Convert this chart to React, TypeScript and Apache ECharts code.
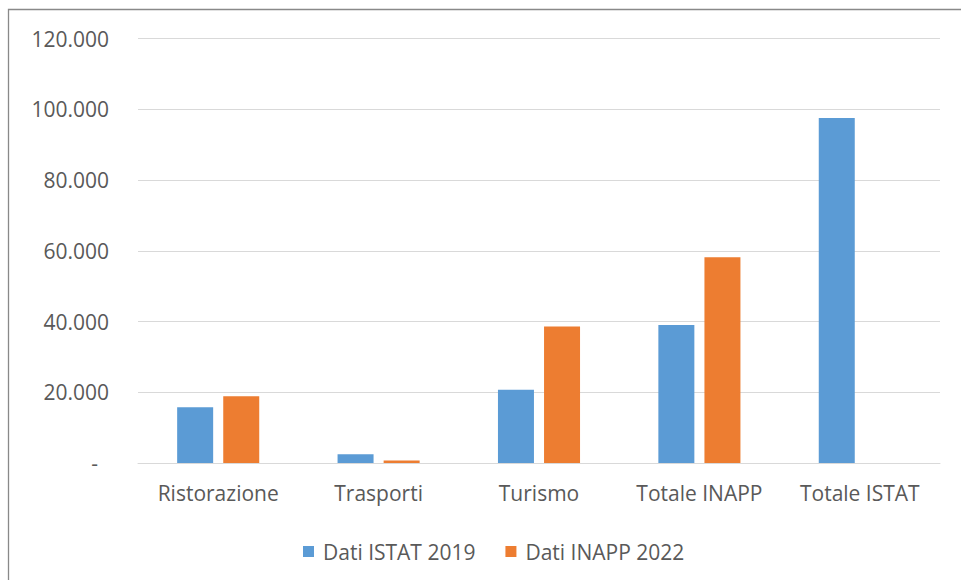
import React, { useEffect, useRef } from "react";
import * as echarts from "echarts";

const categories = ["Ristorazione", "Trasporti", "Turismo", "Totale INAPP", "Totale ISTAT"];
const istat2019 = [15800, 2500, 20700, 39000, 97600];
const inapp2022 = [18900, 700, 38600, 58200, null];
const seriesNames = ["Dati ISTAT 2019", "Dati INAPP 2022"];

const FONT = "'Open Sans', 'Noto Sans', sans-serif";
const TEXT = "#595959";
const FS = 21;

function fmt(v: number): string {
  if (v === 0) return "{z|-}";
  const s = String(Math.round(v));
  return s.replace(/\B(?=(\d{3})+(?!\d))/g, ".");
}

export default function App() {
  const ref = useRef<HTMLDivElement>(null);
  useEffect(() => {
    if (!ref.current) return;
    const chart = echarts.init(ref.current, undefined, { renderer: "svg" });
    chart.setOption({
      animation: false,
      backgroundColor: "#ffffff",
      graphic: [
        {
          type: "rect",
          shape: { x: 8.5, y: 9.5, width: 1200, height: 1000 },
          style: { fill: "none", stroke: "#898989", lineWidth: 1.3 },
          silent: true,
          z: 100,
        },
      ],
      grid: { left: 138, right: 21, top: 38.7, bottom: 117, containLabel: false },
      legend: {
        left: 298,
        top: 536,
        itemWidth: 11,
        itemHeight: 11,
        itemGap: 30,
        icon: "rect",
        textStyle: { fontFamily: FONT, fontSize: FS, color: TEXT, padding: [0, 0, 0, 4] },
        data: seriesNames,
      },
      xAxis: {
        type: "category",
        data: categories,
        axisLine: { show: true, lineStyle: { color: "#d9d9d9", width: 1 } },
        axisTick: { show: false },
        axisLabel: { fontFamily: FONT, fontSize: FS, color: TEXT, margin: 19, interval: 0, hideOverlap: false },
      },
      yAxis: {
        type: "value",
        min: 0,
        max: 120000,
        interval: 20000,
        axisLine: { show: false },
        axisTick: { show: false },
        splitLine: { lineStyle: { color: "#d9d9d9", width: 1 } },
        axisLabel: {
          fontFamily: FONT,
          fontSize: FS,
          color: TEXT,
          margin: 29,
          formatter: (v: number) => fmt(v),
          rich: { z: { fontFamily: FONT, fontSize: FS, color: TEXT, padding: [0, 11, 0, 0] } },
        },
      },
      series: [
        {
          name: seriesNames[0],
          type: "bar",
          data: istat2019,
          barWidth: 36,
          barGap: "28%",
          itemStyle: { color: "#5B9BD5" },
        },
        {
          name: seriesNames[1],
          type: "bar",
          data: inapp2022,
          barWidth: 36,
          barGap: "28%",
          itemStyle: { color: "#ED7D31" },
        },
      ],
    });
    return () => chart.dispose();
  }, []);
  return (
    <div
      ref={ref}
      style={{ position: "fixed", left: 0, top: 0, width: 961, height: 580 }}
    />
  );
}
